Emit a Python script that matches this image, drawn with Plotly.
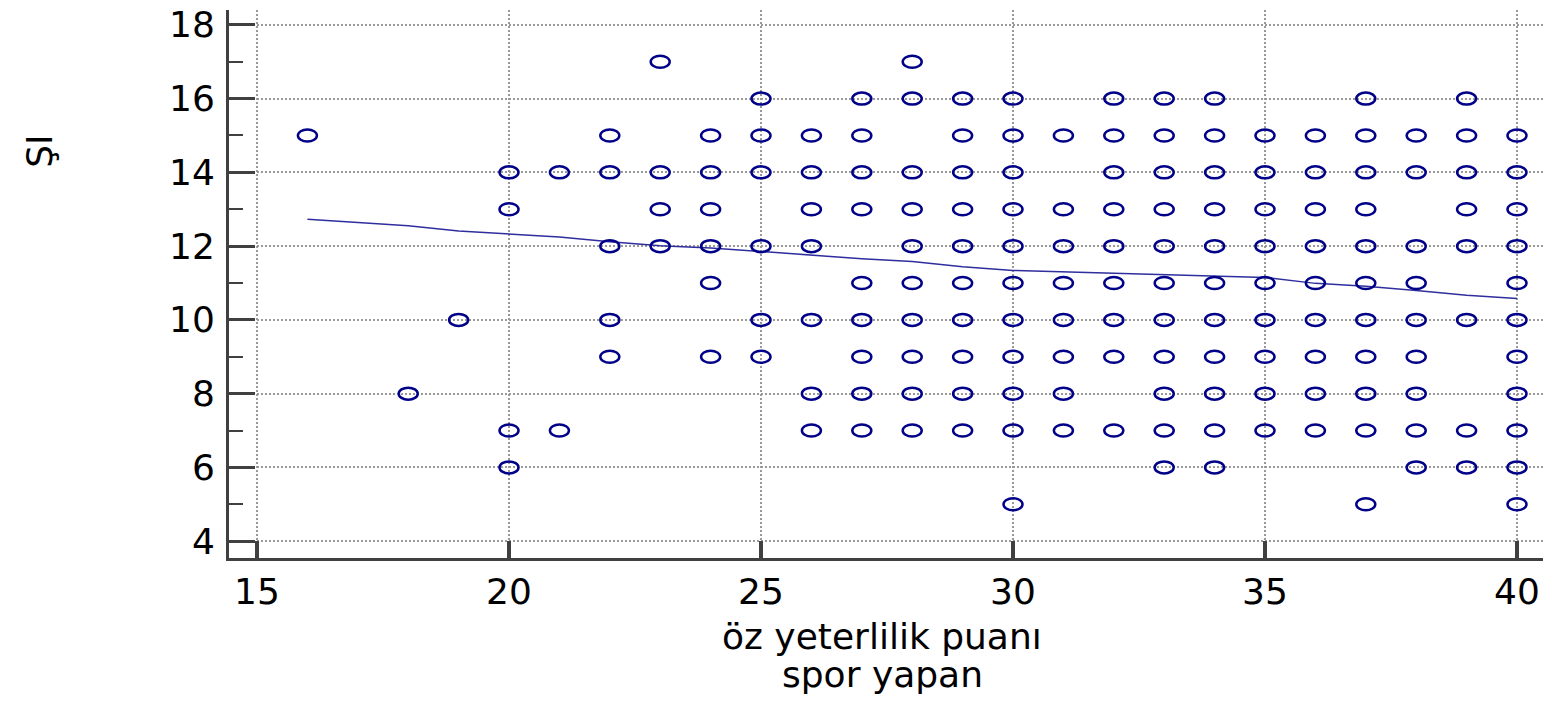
import plotly.graph_objects as go

# ---- data: x values present at each y level ----
x_at_17 = [23, 28]
x_at_16 = [25, 27, 28, 29, 30, 32, 33, 34, 37, 39]
x_at_15 = [16, 22, 24, 25, 26, 27, 29, 30, 31, 32, 33, 34, 35, 36, 37, 38, 39, 40]
x_at_14 = [20, 21, 22, 23, 24, 25, 26, 27, 28, 29, 30, 32, 33, 34, 35, 36, 37, 38, 39, 40]
x_at_13 = [20, 23, 24, 26, 27, 28, 29, 30, 31, 32, 33, 34, 35, 36, 37, 39, 40]
x_at_12 = [22, 23, 24, 25, 26, 28, 29, 30, 31, 32, 33, 34, 35, 36, 37, 38, 39, 40]
x_at_11 = [24, 27, 28, 29, 30, 31, 32, 33, 34, 35, 36, 37, 38, 40]
x_at_10 = [19, 22, 25, 26, 27, 28, 29, 30, 31, 32, 33, 34, 35, 36, 37, 38, 39, 40]
x_at_9 = [22, 24, 25, 27, 28, 29, 30, 31, 32, 33, 34, 35, 36, 37, 38, 40]
x_at_8 = [18, 26, 27, 28, 29, 30, 31, 33, 34, 35, 36, 37, 38, 40]
x_at_7 = [20, 21, 26, 27, 28, 29, 30, 31, 32, 33, 34, 35, 36, 37, 38, 39, 40]
x_at_6 = [20, 33, 34, 38, 39, 40]
x_at_5 = [30, 37, 40]

# smoothed trend line
trend_x = [16, 18, 19, 20, 21, 22, 23, 24, 25, 26, 27, 28, 29, 30, 31, 32, 33, 34, 35, 36, 37, 38, 39, 40]
trend_y = [12.73, 12.55, 12.41, 12.33, 12.25, 12.12, 12.01, 11.95, 11.85, 11.77, 11.66, 11.58,
           11.44, 11.34, 11.30, 11.26, 11.22, 11.18, 11.15, 10.99, 10.91, 10.80, 10.67, 10.58]

x_title_lines = ["öz yeterlilik puanı", "spor yapan"]
y_title = "ŞI"

rows = {17: x_at_17, 16: x_at_16, 15: x_at_15, 14: x_at_14, 13: x_at_13, 12: x_at_12,
        11: x_at_11, 10: x_at_10, 9: x_at_9, 8: x_at_8, 7: x_at_7, 6: x_at_6, 5: x_at_5}

pts_x, pts_y = [], []
for yv, xs in rows.items():
    for xv in xs:
        pts_x.append(xv)
        pts_y.append(yv)

MARK = "#000088"
AX = "#404040"
FONT = "DejaVu Sans"
FS = 36

fig = go.Figure()
fig.add_trace(go.Scatter(x=trend_x, y=trend_y, mode="lines",
                         line=dict(color="#2E2E9E", width=1.5), hoverinfo="skip"))
# invisible points carrying the data (hover)
fig.add_trace(go.Scatter(x=pts_x, y=pts_y, mode="markers",
                         marker=dict(size=1, color="rgba(0,0,0,0)")))

shapes = []
for xv, yv in zip(pts_x, pts_y):
    shapes.append(dict(type="circle", xref="x", yref="y",
                       xsizemode="pixel", ysizemode="pixel",
                       xanchor=xv, yanchor=yv,
                       x0=-9.5, x1=9.5, y0=-6, y1=6,
                       line=dict(color=MARK, width=2.5),
                       fillcolor="rgba(0,0,0,0)", layer="above"))

grid = dict(showgrid=True, gridcolor="#999999", gridwidth=1.5, griddash="2px,2px", zeroline=False)
tfont = dict(family=FONT, size=FS, color="black")

fig.update_layout(
    width=1559, height=707,
    margin=dict(l=229, r=16, t=5, b=149),
    paper_bgcolor="white", plot_bgcolor="white",
    showlegend=False,
    shapes=shapes,
    font=dict(family=FONT, color="black", size=FS),
    xaxis=dict(range=[14.444, 40.516], tick0=0, dtick=5,
               ticks="inside", ticklen=17, tickwidth=4, tickcolor=AX,
               showline=True, linewidth=3, linecolor=AX,
               tickfont=tfont, ticklabelstandoff=0, ticklabeloverflow="allow",
               **grid),
    yaxis=dict(range=[3.543, 18.403], tick0=0, dtick=2,
               ticks="inside", ticklen=26, tickwidth=3, tickcolor=AX,
               minor=dict(ticks="inside", ticklen=14, tickwidth=2, tickcolor=AX, dtick=1, tick0=0, showgrid=False),
               showline=True, linewidth=3, linecolor=AX,
               tickfont=tfont, ticklabelstandoff=4, ticklabeloverflow="allow",
               **grid),
    annotations=[
        dict(text=y_title, xref="paper", yref="paper", x=-0.1438, y=0.7414,
             xanchor="center", yanchor="middle", textangle=-90, showarrow=False, font=tfont),
        dict(text=x_title_lines[0], xref="paper", yref="paper", x=0.497, y=-0.1438,
             xanchor="center", yanchor="middle", showarrow=False, font=tfont),
        dict(text=x_title_lines[1], xref="paper", yref="paper", x=0.497, y=-0.2125,
             xanchor="center", yanchor="middle", showarrow=False, font=tfont),
    ],
)

fig.write_html("out.html")
